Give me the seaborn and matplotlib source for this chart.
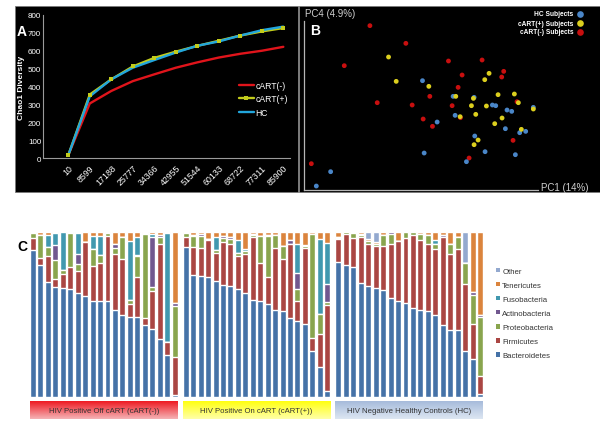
import matplotlib
matplotlib.use("Agg")
import matplotlib.pyplot as plt
from matplotlib.patches import Rectangle, Patch
from matplotlib.lines import Line2D
import numpy as np
import pandas as pd
import seaborn as sns

# ---- panel A: rarefaction (Chao1) ----
depths = ["10", "8599", "17188", "25777", "34366", "42955",
          "51544", "60133", "68722", "77311", "85900"]
chao_cart_neg = [15, 305, 375, 430, 468, 505, 535, 562, 583, 600, 622]
chao_cart_pos = [15, 355, 440, 512, 560, 595, 627, 656, 685, 708, 727]
chao_hc = [15, 345, 440, 505, 548, 590, 628, 652, 685, 715, 735]

# ---- panel B: PCoA scores ----
pc1_hc = [-0.002, 0.09, 0.153, 0.208, 0.218, 0.252, 0.266, 0.331, 0.096, 0.042,
          0.247, 0.29, 0.308, 0.155, 0.003, 0.186, 0.277, 0.13, -0.278, -0.321]
pc4_hc = [0.085, 0.038, 0.035, 0.012, 0.01, -0.003, -0.007, 0.005, -0.019, -0.039,
          -0.059, -0.071, -0.067, -0.081, -0.132, -0.128, -0.137, -0.158, -0.188, -0.231]
pc1_pos = [-0.104, -0.081, 0.017, 0.198, 0.185, 0.098, 0.151, 0.225, 0.274, 0.286,
           0.145, 0.19, 0.158, 0.111, 0.237, 0.215, 0.331, 0.295, 0.165, 0.153]
pc4_pos = [0.156, 0.083, 0.068, 0.107, 0.088, 0.038, 0.032, 0.043, 0.045, 0.019,
           0.01, 0.009, -0.016, -0.023, -0.027, -0.044, 0.0, -0.061, -0.093, -0.107]
pc1_neg = [-0.16, -0.052, -0.237, 0.076, 0.177, 0.117, 0.242, 0.236, 0.105, 0.02,
           -0.138, -0.033, 0.087, 0.0, 0.028, 0.112, 0.282, 0.27, 0.138, -0.336]
pc4_neg = [0.25, 0.197, 0.13, 0.144, 0.147, 0.102, 0.113, 0.096, 0.065, 0.038,
           0.019, 0.012, 0.01, -0.03, -0.052, -0.026, 0.022, -0.094, -0.147, -0.164]

# ---- panel C: phylum relative abundance per subject ----
phyla = ["Bacteroidetes", "Firmicutes", "Proteobacteria", "Actinobacteria",
         "Fusobacteria", "Tenericutes", "Other"]
group_labels = ["HIV Positive Off cART (cART(-))", "HIV Positive On cART (cART(+))",
                "HIV Negative Healthy Controls (HC)"]
# columns follow `phyla`
abund_neg = [
    [.89, .075, .03, 0, 0, .005, 0], [.80, .04, .14, 0, 0, .02, 0],
    [.70, .155, .055, 0, .07, .02, 0], [.665, .05, .115, .09, .075, .005, 0],
    [.66, .085, .027, 0, .225, .003, 0], [.657, .133, .206, 0, 0, .004, 0],
    [.632, .13, .046, .06, .127, .005, 0], [.612, .327, 0, 0, 0, .061, 0],
    [.58, .215, .105, 0, .073, .027, 0], [.58, .235, .045, 0, .113, .027, 0],
    [.58, .395, .02, 0, 0, .005, 0], [.53, .335, .04, .02, 0, .075, 0],
    [.50, .335, .135, 0, 0, .03, 0], [.485, .08, .024, 0, .357, .054, 0],
    [.483, .242, .128, .01, .106, .031, 0], [.438, .039, .511, .005, .007, 0, 0],
    [.41, .234, .024, .30, .02, .012, 0], [.35, .58, .037, .017, 0, .016, 0],
    [.256, .075, 0, 0, .66, .009, 0], [.015, .225, .313, .017, 0, .43, 0],
]
abund_pos = [
    [.91, .057, .025, 0, 0, .008, 0], [.74, .17, .065, .005, 0, .02, 0],
    [.735, .17, .07, .01, 0, .015, 0], [.725, .225, .01, 0, 0, .04, 0],
    [.705, .17, .015, 0, .08, .03, 0], [.68, .26, .025, .01, 0, .025, 0],
    [.67, .255, .035, .01, 0, .03, 0], [.655, .2, .015, 0, .08, .05, 0],
    [.63, .235, .02, 0, .01, .105, 0], [.59, .38, .01, .005, 0, .015, 0],
    [.58, .232, .166, 0, 0, .022, 0], [.565, .16, .25, .005, 0, .02, 0],
    [.53, .375, .075, 0, 0, .02, 0], [.52, .317, .08, 0, 0, .083, 0],
    [.48, .447, 0, .025, 0, .048, 0], [.463, .12, .07, .1, .173, .074, 0],
    [.44, .465, .01, 0, .005, .08, 0], [.28, .08, .63, 0, 0, .01, 0],
    [.184, .198, .12, 0, .455, .043, 0], [.038, .522, .014, .11, .25, .066, 0],
]
abund_hc = [
    [.82, .136, .01, .004, 0, .03, 0], [.80, .185, .015, 0, 0, 0, 0],
    [.786, .18, .03, 0, 0, .004, 0], [.69, .28, .01, .01, 0, .01, 0],
    [.675, .252, .02, 0, 0, .01, .043], [.66, .255, .015, 0, 0, .01, .06],
    [.65, .268, .065, 0, 0, .017, 0], [.60, .33, .055, .015, 0, 0, 0],
    [.58, .365, 0, 0, 0, .055, 0], [.57, .396, .034, 0, 0, 0, 0],
    [.54, .44, .02, 0, 0, 0, 0], [.525, .425, .04, 0, 0, .01, 0],
    [.52, .41, .05, 0, 0, .02, 0], [.495, .40, .035, 0, .02, .05, 0],
    [.435, .535, 0, .01, 0, .02, 0], [.404, .46, .066, 0, 0, .07, 0],
    [.404, .495, .07, 0, 0, .031, 0], [.28, .407, .125, 0, 0, 0, .188],
    [.232, .212, .176, .016, 0, .364, 0], [.02, .11, .354, .016, 0, .50, 0],
]

phylum_colors = {
    "Bacteroidetes": "#4572A7", "Firmicutes": "#AA4643", "Proteobacteria": "#89A54E",
    "Actinobacteria": "#71588F", "Fusobacteria": "#4198AF", "Tenericutes": "#DB843D",
    "Other": "#93A9CF",
}

sns.set_style("white")
plt.rcParams["font.family"] = ["Liberation Sans", "DejaVu Sans"]

W, H = 600, 431
fig = plt.figure(figsize=(6, 4.31), dpi=100)


def fx(px):
    return px / W


def fy(py):
    return 1 - py / H


# black panel backgrounds
for x0, x1 in [(15, 298), (298.5, 600)]:
    fig.add_artist(Rectangle((fx(x0), fy(193)), fx(x1 - x0), (193 - 6.5) / H,
                             transform=fig.transFigure, facecolor="black",
                             edgecolor="#7a7a7a", lw=0.6, zorder=-1))

# ---------------- panel A ----------------
axa = fig.add_axes([fx(43.3), fy(159), fx(290 - 43.3), (159 - 16) / H])
axa.set_facecolor("black")
pos = np.arange(len(depths))
line_df = pd.DataFrame({"pos": pos, "neg": chao_cart_neg, "plus": chao_cart_pos, "hc": chao_hc})
sns.lineplot(data=line_df, x="pos", y="neg", color="#E0141B", lw=1.7, ax=axa, label="cART(-)", zorder=3)
sns.lineplot(data=line_df, x="pos", y="plus", color="#C2CC1C", lw=1.7, marker="s",
             markersize=3.5, markeredgewidth=0, ax=axa, label="cART(+)", zorder=3)
sns.lineplot(data=line_df, x="pos", y="hc", color="#22A6DC", lw=1.7, ax=axa, label="HC", zorder=4)
axa.plot(pos, chao_cart_pos, ls="", marker="s", ms=3.5, mew=0, color="#C2CC1C", zorder=5)
axa.set_xlim(-1.16, 10.31)
axa.set_ylim(0, 800)
axa.set_yticks(range(0, 801, 100))
axa.set_xticks(pos)
axa.set_xticklabels(depths, rotation=45, ha="right", rotation_mode="anchor")
axa.tick_params(axis="both", colors="white", length=2, width=0.6, pad=1.5)
axa.tick_params(axis="x", labelsize=6.3)
axa.tick_params(axis="y", length=0, labelsize=5.8)
axa.set_xlabel("")
axa.set_ylabel("Chao1 Diversity", color="white", fontsize=6, fontweight="bold", labelpad=2)
for side in ["top", "right"]:
    axa.spines[side].set_visible(False)
for side in ["left", "bottom"]:
    axa.spines[side].set_color("#9a9a9a")
    axa.spines[side].set_linewidth(0.8)
axa.legend(loc="upper left", bbox_to_anchor=(fx(239), fy(82)), bbox_transform=fig.transFigure,
           frameon=False, fontsize=6.2, labelcolor="white", handlelength=1.7,
           handletextpad=0.2, labelspacing=0.5, borderpad=0, borderaxespad=0)
fig.text(fx(17), fy(32), "A", color="white", fontsize=10, fontweight="bold", va="center")

# ---------------- panel B ----------------
axb = fig.add_axes([fx(304), fy(190.7), fx(538 - 304), (190.7 - 22) / H])
axb.set_facecolor("black")
pc_df = pd.DataFrame({
    "PC1": pc1_neg + pc1_hc + pc1_pos,
    "PC4": pc4_neg + pc4_hc + pc4_pos,
    "group": ["neg"] * len(pc1_neg) + ["hc"] * len(pc1_hc) + ["pos"] * len(pc1_pos),
})
pc_colors = {"hc": "#4A86C8", "pos": "#DCCF1E", "neg": "#C80F0F"}
sns.scatterplot(data=pc_df, x="PC1", y="PC4", hue="group", palette=pc_colors,
                s=12, linewidth=0, legend=False, ax=axb)
axb.set_xlim(-0.358, 0.345)
axb.set_ylim(-0.242, 0.264)
axb.set_xticks([])
axb.set_yticks([])
axb.set_xlabel("")
axb.set_ylabel("")
for side in ["top", "right"]:
    axb.spines[side].set_visible(False)
for side in ["left", "bottom"]:
    axb.spines[side].set_color("#b5b5b5")
    axb.spines[side].set_linewidth(0.9)
fig.text(fx(305), fy(14), "PC4 (4.9%)", color="#cfcfcf", fontsize=7, va="center")
fig.text(fx(541), fy(188.5), "PC1 (14%)", color="#cfcfcf", fontsize=7, va="center")
fig.text(fx(310), fy(31), "B", color="white", fontsize=10, fontweight="bold", va="center")
for txt, key, ypx in [("HC Subjects", "hc", 15), ("cART(+) Subjects", "pos", 24),
                      ("cART(-) Subjects", "neg", 33)]:
    fig.text(fx(573.5), fy(ypx), txt, color="white", fontsize=4.8, fontweight="bold",
             ha="right", va="center")
    fig.add_artist(Line2D([fx(579.5)], [fy(ypx)], marker="o", ms=4.8, mew=0,
                          color=pc_colors[key], transform=fig.transFigure))

# ---------------- panel C ----------------
axc = fig.add_axes([fx(30), fy(398), fx(483 - 30), (398 - 233) / H])
rows = []
for g, table in enumerate([abund_neg, abund_pos, abund_hc]):
    for i, vals in enumerate(table):
        rows.append([g * 20.5 + i, g] + list(vals))
bar_df = pd.DataFrame(rows, columns=["slot", "group"] + phyla)
bar_df[phyla] = bar_df[phyla].div(bar_df[phyla].sum(axis=1), axis=0)
cum = bar_df[phyla].cumsum(axis=1)
for ph in reversed(phyla):
    sns.barplot(x=bar_df["slot"], y=cum[ph], native_scale=True, color=phylum_colors[ph],
                saturation=1, width=0.8, errorbar=None, ax=axc)
axc.set_xlim(-0.4, 60.4)
axc.set_ylim(0, 1)
axc.axis("off")

box_colors = [("#EE1A22", "#F5B3B6"), ("#FFFF10", "#FFFFA8"), ("#A6BBDB", "#DDE6F2")]
grad = np.linspace(0, 1, 64)[:, None, None]
for g, (label, (c_top, c_bot)) in enumerate(zip(group_labels, box_colors)):
    top = np.array(matplotlib.colors.to_rgb(c_top))
    bot = np.array(matplotlib.colors.to_rgb(c_bot))
    img = top * (1 - grad) + bot * grad
    x0 = g * 20.5 - 0.4
    x1 = g * 20.5 + 19.4
    axc.imshow(img, extent=(x0, x1, -0.133, -0.026), aspect="auto", clip_on=False,
               interpolation="bilinear", zorder=2)
    axc.text((x0 + x1) / 2, -0.08, label, ha="center", va="center", fontsize=5.6,
             color="#333333", clip_on=False, zorder=3)
axc.set_xlim(-0.4, 60.4)
axc.set_ylim(0, 1)
fig.text(fx(17), fy(247), "C", color="black", fontsize=10, fontweight="bold", va="center")

handles = [Patch(facecolor=phylum_colors[p], edgecolor="none") for p in reversed(phyla)]
fig.legend(handles, list(reversed(phyla)), loc="upper left",
           bbox_to_anchor=(fx(496), fy(268.5)), frameon=False, fontsize=5.6,
           labelcolor="#333333", handlelength=0.55, handleheight=0.55,
           handletextpad=0.25, labelspacing=0.9, borderpad=0, borderaxespad=0)

fig.savefig("out.png", dpi=100)
